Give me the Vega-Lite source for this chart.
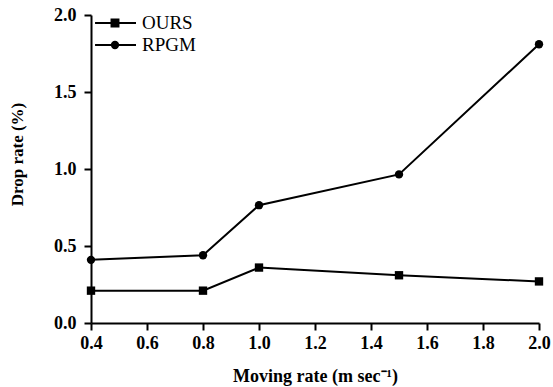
{
  "$schema": "https://vega.github.io/schema/vega-lite/v6.json",
  "width": 448,
  "height": 308,
  "autosize": "none",
  "padding": {"left": 91, "top": 15, "right": 14, "bottom": 64},
  "background": "white",
  "data": {"values": [
    {"rate": 0.4, "drop": 0.21, "method": "OURS"},
    {"rate": 0.8, "drop": 0.21, "method": "OURS"},
    {"rate": 1.0, "drop": 0.36, "method": "OURS"},
    {"rate": 1.5, "drop": 0.31, "method": "OURS"},
    {"rate": 2.0, "drop": 0.27, "method": "OURS"},
    {"rate": 0.4, "drop": 0.41, "method": "RPGM"},
    {"rate": 0.8, "drop": 0.44, "method": "RPGM"},
    {"rate": 1.0, "drop": 0.765, "method": "RPGM"},
    {"rate": 1.5, "drop": 0.965, "method": "RPGM"},
    {"rate": 2.0, "drop": 1.81, "method": "RPGM"}
  ]},
  "encoding": {
    "x": {"field": "rate", "type": "quantitative",
      "scale": {"domain": [0.4, 2.0], "nice": false, "zero": false},
      "axis": {"values": [0.4, 0.6, 0.8, 1.0, 1.2, 1.4, 1.6, 1.8, 2.0], "format": ".1f",
        "title": "Moving rate (m sec⁻¹)", "titlePadding": 15, "labelPadding": 4}},
    "y": {"field": "drop", "type": "quantitative",
      "scale": {"domain": [0, 2], "nice": false},
      "axis": {"values": [0, 0.5, 1.0, 1.5, 2.0], "format": ".1f",
        "title": "Drop rate (%)", "titlePadding": 27, "titleFontSize": 17, "titleY": 139, "labelPadding": 8}}
  },
  "layer": [
    {"mark": {"type": "line", "color": "black", "strokeWidth": 2},
     "encoding": {"detail": {"field": "method"}}},
    {"mark": {"type": "point", "filled": true, "color": "black", "opacity": 1, "size": 70},
     "encoding": {"shape": {"field": "method", "type": "nominal",
       "scale": {"domain": ["OURS", "RPGM"], "range": ["square", "circle"]},
       "legend": null}}},
    {"mark": {"type": "point", "filled": false, "color": "black", "opacity": 0, "strokeWidth": 2},
     "encoding": {"shape": {"field": "method", "type": "nominal",
       "scale": {"domain": ["OURS", "RPGM"], "range": ["M-1.9,0H2M-0.33,-0.33H0.33V0.33H-0.33ZM-0.33,-0.15H0.33M-0.33,0.15H0.33", "M-1.9,0H2M0.3,0A0.3,0.3,0,1,1,-0.3,0A0.3,0.3,0,1,1,0.3,0ZM-0.2,-0.15H0.2M-0.2,0.15H0.2"]},
       "legend": {"title": null, "orient": "none", "legendX": 12.5, "legendY": -3.5, "padding": 0,
         "symbolSize": 441, "symbolOpacity": 1, "symbolStrokeWidth": 2, "symbolStrokeColor": "black", "symbolFillColor": "black",
         "labelFont": "Liberation Serif", "labelFontSize": 19, "labelColor": "black", "labelOffset": 15.5,
         "rowPadding": 0}}}}
  ],
  "resolve": {"scale": {"shape": "independent"}, "legend": {"shape": "independent"}},
  "config": {
    "view": {"stroke": null},
    "font": "Liberation Serif",
    "axis": {"grid": false, "labelFlush": false, "labelOverlap": false, "domainColor": "black", "domainWidth": 2, "tickColor": "black", "tickWidth": 2, "tickSize": 7,
      "labelFont": "Liberation Serif", "labelFontSize": 18, "labelFontWeight": "bold", "labelColor": "black",
      "titleFont": "Liberation Serif", "titleFontSize": 18, "titleFontWeight": "bold", "titleColor": "black"}
  }
}
